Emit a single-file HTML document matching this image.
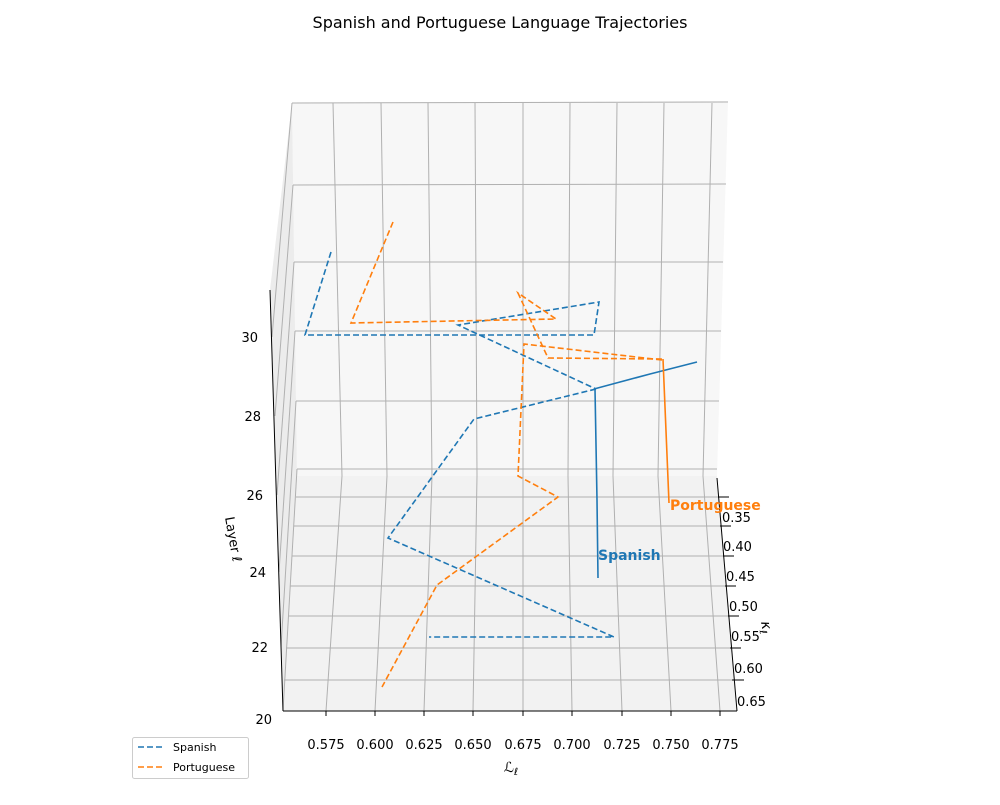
<!DOCTYPE html>
<html><head><meta charset="utf-8"><style>
body{margin:0;background:#fff}
svg text{font-family:"DejaVu Sans","Liberation Sans",sans-serif}
</style></head><body>
<svg width="1000" height="800" viewBox="0 0 1000 800" xmlns="http://www.w3.org/2000/svg">
<rect width="1000" height="800" fill="#fff"/>
<text x="500" y="28" font-size="16" text-anchor="middle">Spanish and Portuguese Language Trajectories</text>
<!-- panes -->
<polygon points="292,103 728,101 717,476 297,476" fill="#f7f7f7"/>
<polygon points="297,476 717,476 737,711 283,711" fill="#f2f2f2"/>
<polygon points="270,290 292,103 297,476 283,711" fill="#ececec"/>
<g stroke="#b0b0b0" stroke-width="1" fill="none">
<!-- back wall horizontals -->
<line x1="292" y1="103" x2="728" y2="102"/>
<line x1="293" y1="185" x2="726" y2="184"/>
<line x1="294" y1="262" x2="723" y2="262"/>
<line x1="295" y1="331" x2="721" y2="331"/>
<line x1="296" y1="401" x2="719" y2="401"/>
<line x1="297" y1="469" x2="717" y2="469"/>
<!-- left pane lines -->
<line x1="283" y1="711" x2="297" y2="469"/>
<line x1="281" y1="647" x2="296" y2="401"/>
<line x1="279" y1="572" x2="295" y2="331"/>
<line x1="277" y1="495" x2="294" y2="262"/>
<line x1="275" y1="416" x2="293" y2="185"/>
<line x1="272" y1="337" x2="292" y2="103"/>
<!-- verticals wall + floor -->
<polyline points="333,103 342,476 326,711"/>
<polyline points="381,103 387,476 375,711"/>
<polyline points="428,103 432,476 424,711"/>
<polyline points="475,103 477,476 473,711"/>
<polyline points="523,103 523,476 523,711"/>
<polyline points="570,103 568,476 572,711"/>
<polyline points="617,103 613,476 622,711"/>
<polyline points="664,103 658,476 671,711"/>
<polyline points="712,103 703,476 720,711"/>
<!-- floor horizontals -->
<line x1="296" y1="497" x2="719" y2="497"/>
<line x1="294" y1="526" x2="721" y2="526"/>
<line x1="292" y1="556" x2="724" y2="556"/>
<line x1="290" y1="586" x2="727" y2="586"/>
<line x1="288" y1="616" x2="729" y2="616"/>
<line x1="286" y1="648" x2="732" y2="648"/>
<line x1="284" y1="680" x2="734" y2="680"/>
</g>
<!-- axes -->
<g stroke="#000" stroke-width="1" fill="none">
<line x1="270" y1="290" x2="283" y2="711"/>
<line x1="283" y1="711" x2="737" y2="711"/>
<line x1="717" y1="478" x2="737" y2="711"/>
<line x1="326" y1="711" x2="326" y2="716"/><line x1="375" y1="711" x2="375" y2="716"/>
<line x1="424" y1="711" x2="424" y2="716"/><line x1="473" y1="711" x2="473" y2="716"/>
<line x1="523" y1="711" x2="523" y2="716"/><line x1="572" y1="711" x2="572" y2="716"/>
<line x1="622" y1="711" x2="622" y2="716"/><line x1="671" y1="711" x2="671" y2="716"/>
<line x1="720" y1="711" x2="720" y2="716"/>
<line x1="718" y1="497" x2="729" y2="497"/><line x1="720" y1="526" x2="731" y2="526"/>
<line x1="723" y1="556" x2="734" y2="556"/><line x1="725" y1="586" x2="736" y2="586"/>
<line x1="728" y1="616" x2="739" y2="616"/><line x1="730" y1="648" x2="741" y2="648"/>
<line x1="732" y1="680" x2="744" y2="680"/>
</g>
<g font-size="13" text-anchor="middle">
<text x="326" y="749">0.575</text><text x="375" y="749">0.600</text><text x="424" y="749">0.625</text>
<text x="473" y="749">0.650</text><text x="523" y="749">0.675</text><text x="572" y="749">0.700</text>
<text x="622" y="749">0.725</text><text x="671" y="749">0.750</text><text x="720" y="749">0.775</text>
</g>
<g font-size="13">
<text x="722" y="522">0.35</text><text x="723" y="551">0.40</text><text x="726" y="581">0.45</text>
<text x="729" y="611">0.50</text><text x="731" y="641">0.55</text><text x="734" y="673">0.60</text>
<text x="737" y="706">0.65</text>
</g>
<g font-size="13" text-anchor="end">
<text x="258" y="342">30</text><text x="261" y="421">28</text><text x="263" y="500">26</text>
<text x="266" y="577">24</text><text x="268" y="652">22</text><text x="272" y="724">20</text>
</g>
<text x="511" y="772" font-size="14" text-anchor="middle" font-style="italic">ℒ<tspan font-size="10" dy="3">ℓ</tspan></text>
<text transform="translate(761,622) rotate(80)" font-size="14" font-style="italic">κ<tspan font-size="10" dy="3">ℓ</tspan></text>
<text transform="translate(229,540) rotate(80)" font-size="13" text-anchor="middle">Layer ℓ</text>
<!-- Spanish -->
<g fill="none" stroke="#1f77b4" stroke-width="1.6">
<polyline stroke-dasharray="6,3" points="331,252 305,335 594,335 599,302 458,325 596,389"/>
<polyline stroke-dasharray="6,3" points="596,389 474,419 388,538 614,637 429,637"/>
<polyline points="594,389 620,382 650,374 697,362"/>
<polyline points="595,389 597,500 598,578"/>
</g>
<!-- Portuguese -->
<g fill="none" stroke="#ff7f0e" stroke-width="1.6">
<polyline stroke-dasharray="6,3" points="393,222 351,323 556,319 518,293 548,358 662,359"/>
<polyline stroke-dasharray="6,3" points="662,360 524,344 518,476 558,497 437,585 382,687"/>
<polyline points="663,359 669,503"/>
</g>
<text x="598" y="560" font-size="14" font-weight="bold" fill="#1f77b4">Spanish</text>
<text x="670" y="510" font-size="14" font-weight="bold" fill="#ff7f0e">Portuguese</text>
<!-- legend -->
<rect x="132.5" y="737.5" width="116" height="41" rx="2" fill="#fff" stroke="#ccc"/>
<line x1="138" y1="747" x2="162" y2="747" stroke="#1f77b4" stroke-width="1.6" stroke-dasharray="6,3"/>
<line x1="138" y1="767" x2="162" y2="767" stroke="#ff7f0e" stroke-width="1.6" stroke-dasharray="6,3"/>
<text x="173" y="751" font-size="11">Spanish</text>
<text x="173" y="771" font-size="11">Portuguese</text>
</svg>
</body></html>
